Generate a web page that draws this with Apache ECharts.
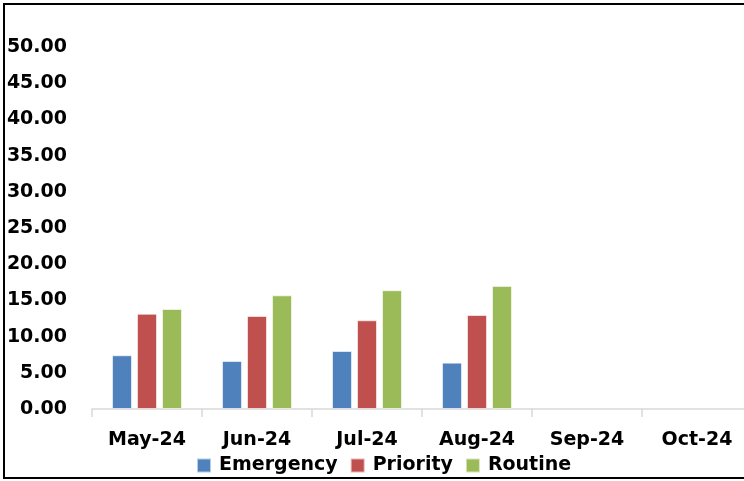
<!DOCTYPE html>
<html><head><meta charset="utf-8">
<script src="https://cdn.jsdelivr.net/npm/echarts@6/dist/echarts.min.js"></script>
<style>html,body{margin:0;padding:0;background:#fff}#c{width:744px;height:481px}</style>
</head><body><div id="c"></div>
<script>
const categories = ['May-24','Jun-24','Jul-24','Aug-24','Sep-24','Oct-24'];
const emergency = [7.42, 6.63, 8.01, 6.40, null, null];
const priority = [13.16, 12.85, 12.25, 12.98, null, null];
const routine = [13.81, 15.70, 16.40, 17.00, null, null];
const yTicks = {min: 0, max: 50, interval: 5};

const chart = echarts.init(document.getElementById('c'));
const barStyle = (c) => ({color: c, borderColor: 'rgba(255,255,255,0.6)', borderWidth: 1});
const font = 'DejaVu Sans';
chart.setOption({
  animation: false,
  graphic: [{type: 'rect', shape: {x: 4, y: 4, width: 800, height: 474}, style: {fill: 'none', stroke: '#000', lineWidth: 2}, z: 100}],
  legend: {
    left: 191, top: 451, itemWidth: 14, itemHeight: 14, itemGap: 12,
    icon: 'rect',
    textStyle: {fontFamily: font, fontWeight: 'bold', fontSize: 19, color: '#000', padding: [0, 0, 0, 3]},
    data: ['Emergency','Priority','Routine']
  },
  grid: {left: 92, top: 47, width: 660, height: 362, outerBoundsMode: 'none', containLabel: false},
  xAxis: {
    type: 'category', data: categories,
    axisLine: {lineStyle: {color: '#d9d9d9', width: 1.5}},
    axisTick: {show: true, length: 8, lineStyle: {color: '#d9d9d9', width: 1.5}},
    axisLabel: {margin: 22, color: '#000', fontFamily: font, fontWeight: 'bold', fontSize: 19, interval: 0}
  },
  yAxis: {
    type: 'value', min: yTicks.min, max: yTicks.max, interval: yTicks.interval,
    axisLine: {show: false}, axisTick: {show: false}, splitLine: {show: false},
    axisLabel: {align: 'right', margin: 25, color: '#000', fontFamily: font, fontWeight: 'bold', fontSize: 19,
      padding: [3, 0, 0, 0], formatter: v => v.toFixed(2)}
  },
  series: [
    {name: 'Emergency', type: 'bar', data: emergency, barWidth: 20, barGap: '25%', itemStyle: barStyle('#4F81BD')},
    {name: 'Priority', type: 'bar', data: priority, barWidth: 20, barGap: '25%', itemStyle: barStyle('#C0504D')},
    {name: 'Routine', type: 'bar', data: routine, barWidth: 20, barGap: '25%', itemStyle: barStyle('#9BBB59')}
  ]
});
</script></body></html>
